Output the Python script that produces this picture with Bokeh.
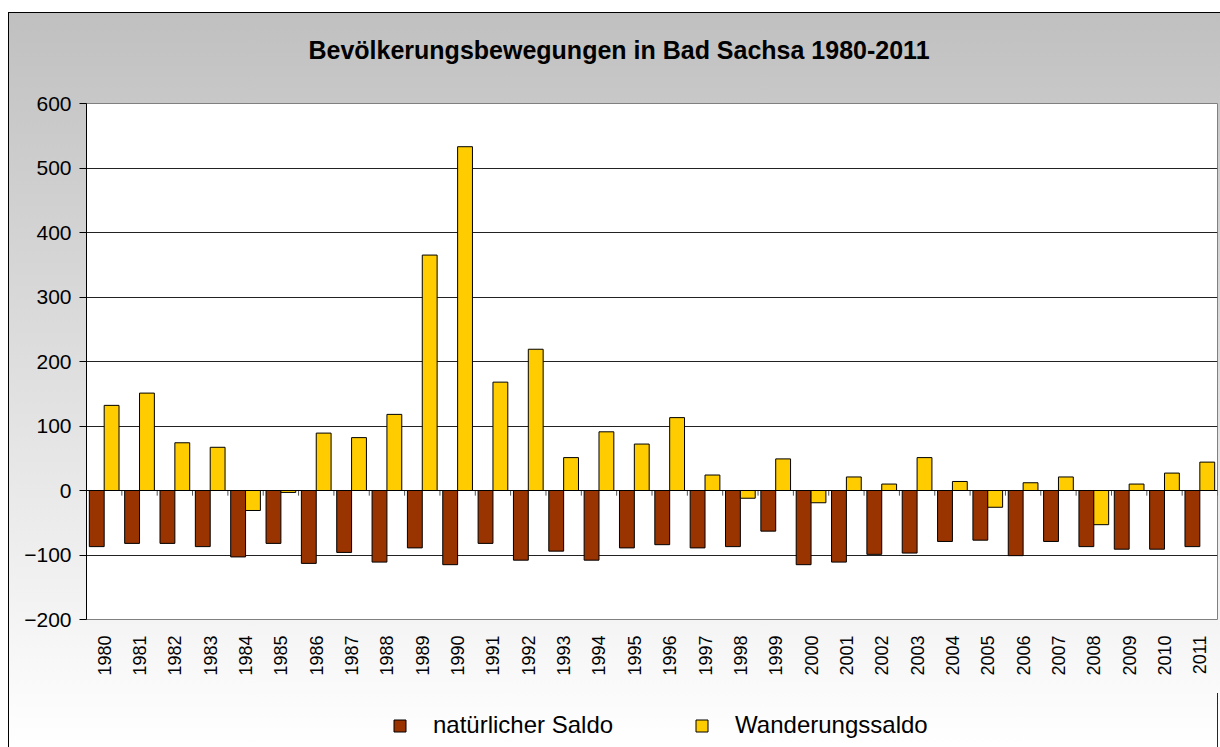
import math
from bokeh.plotting import figure
from bokeh.layouts import column
from bokeh.models import (ColumnDataSource, FixedTicker, Span, Legend,
                          LegendItem, Range1d, Label)
from bokeh.transform import dodge
from bokeh.embed import file_html
from bokeh.resources import INLINE

# ---- data ----
years = [1980, 1981, 1982, 1983, 1984, 1985, 1986, 1987, 1988, 1989,
         1990, 1991, 1992, 1993, 1994, 1995, 1996, 1997, 1998, 1999,
         2000, 2001, 2002, 2003, 2004, 2005, 2006, 2007, 2008, 2009,
         2010, 2011]
natural = [-87, -82, -82, -87, -103, -82, -113, -96, -111, -89,
           -115, -82, -108, -94, -108, -89, -84, -89, -87, -63,
           -115, -111, -99, -97, -79, -77, -101, -79, -87, -91,
           -91, -87]
migration = [132, 151, 74, 67, -31, -3, 89, 82, 118, 365,
             533, 168, 219, 51, 91, 72, 113, 24, -12, 49,
             -19, 21, 10, 51, 14, -26, 12, 21, -53, 10,
             27, 44]
y_ticks = [-200, -100, 0, 100, 200, 300, 400, 500, 600]
series_names = ["natürlicher Saldo", "Wanderungssaldo"]
series_colors = ["#993300", "#FFCC00"]
title_text = "Bevölkerungsbewegungen in Bad Sachsa 1980-2011"

FONT = "Liberation Sans"

src = ColumnDataSource(dict(year=years, nat=natural, mig=migration))

W = 1211
BL, BR = 77, 3          # left / right borders shared by all strips
H0, H1, H2 = 76, 604, 54


def strip(height):
    f = figure(width=W, height=height, output_backend="svg",
               toolbar_location=None, x_axis_type=None, y_axis_type=None,
               x_range=Range1d(0, W - BL - BR), y_range=Range1d(0, height))
    f.min_border_left = BL
    f.min_border_right = BR
    f.min_border_top = 0
    f.min_border_bottom = 0
    f.border_fill_alpha = 0
    f.background_fill_alpha = 0
    f.outline_line_color = None
    return f


# ---- title strip ----
p0 = strip(H0)
p0.add_layout(Label(x=532.5, y=39.5, text=title_text, text_align="center",
                    text_baseline="middle", text_font=FONT,
                    text_font_size="25px", text_font_style="bold",
                    text_color="black"))

# ---- main chart ----
p = figure(width=W, height=H1, output_backend="svg", toolbar_location=None,
           x_range=Range1d(years[0] - 0.5, years[-1] + 0.5),
           y_range=Range1d(y_ticks[0], y_ticks[-1]))
p.min_border_left = BL
p.min_border_right = BR
p.min_border_top = 14
p.min_border_bottom = 74
p.border_fill_alpha = 0
p.background_fill_color = "white"
p.outline_line_color = "#808080"
p.outline_line_width = 1

r1 = p.vbar(x=dodge("year", -0.21), top="nat", bottom=0, width=0.42,
            source=src, fill_color=series_colors[0], line_color="black",
            line_width=1)
r2 = p.vbar(x=dodge("year", 0.21), top="mig", bottom=0, width=0.42,
            source=src, fill_color=series_colors[1], line_color="black",
            line_width=1)

# zero axis line and boundary tick marks
p.add_layout(Span(location=0, dimension="width", line_color="black",
                  line_width=1))
p.segment(x0=dodge("year", 0.5), y0=0, x1=dodge("year", 0.5), y1=-8,
          source=src, line_color="#555555", line_width=1)

p.xaxis.ticker = FixedTicker(ticks=years)
p.xaxis.axis_line_color = None
p.xaxis.major_tick_line_color = None
p.xaxis.major_tick_out = 0
p.xaxis.major_tick_in = 0
p.xaxis.minor_tick_line_color = None
p.xaxis.major_label_orientation = math.pi / 2
p.xaxis.major_label_standoff = 16
p.xaxis.major_label_text_font = FONT
p.xaxis.major_label_text_font_size = "18px"
p.xaxis.major_label_text_color = "black"

p.yaxis.ticker = FixedTicker(ticks=y_ticks)
p.yaxis.axis_line_color = "black"
p.yaxis.major_tick_line_color = "black"
p.yaxis.major_tick_out = 7
p.yaxis.major_tick_in = 0
p.yaxis.minor_tick_line_color = None
p.yaxis.major_label_standoff = 8
p.yaxis.major_label_text_font = FONT
p.yaxis.major_label_text_font_size = "21px"
p.yaxis.major_label_text_color = "black"

p.xgrid.grid_line_color = None
p.ygrid.ticker = FixedTicker(ticks=y_ticks)
p.ygrid.grid_line_color = "#222222"
p.ygrid.grid_line_width = 1

# ---- legend strip ----
p2 = strip(H2)
l1 = p2.vbar(x="year", top="nat", bottom=0, width=0.42, source=src,
             fill_color=series_colors[0], line_color="black", line_width=1)
l2 = p2.vbar(x="year", top="mig", bottom=0, width=0.42, source=src,
             fill_color=series_colors[1], line_color="black", line_width=1)
legend = Legend(items=[LegendItem(label=series_names[0], renderers=[l1]),
                       LegendItem(label=series_names[1], renderers=[l2])],
                location=(306, 8), orientation="horizontal",
                glyph_width=15, glyph_height=15, label_standoff=26,
                spacing=81, padding=0, margin=0,
                border_line_color=None, background_fill_alpha=0,
                label_text_font=FONT, label_text_font_size="24px",
                label_text_color="black")
p2.add_layout(legend)

layout = column(p0, p, p2, spacing=0, styles={
    "background": "linear-gradient(180deg, #c0c0c0 0%, #ffffff 100%)",
    "border-top": "1px solid #000",
    "border-left": "1px solid #000",
    "margin-top": "12px",
    "margin-left": "8px",
})

open("out.html", "w").write(file_html(layout, INLINE))
